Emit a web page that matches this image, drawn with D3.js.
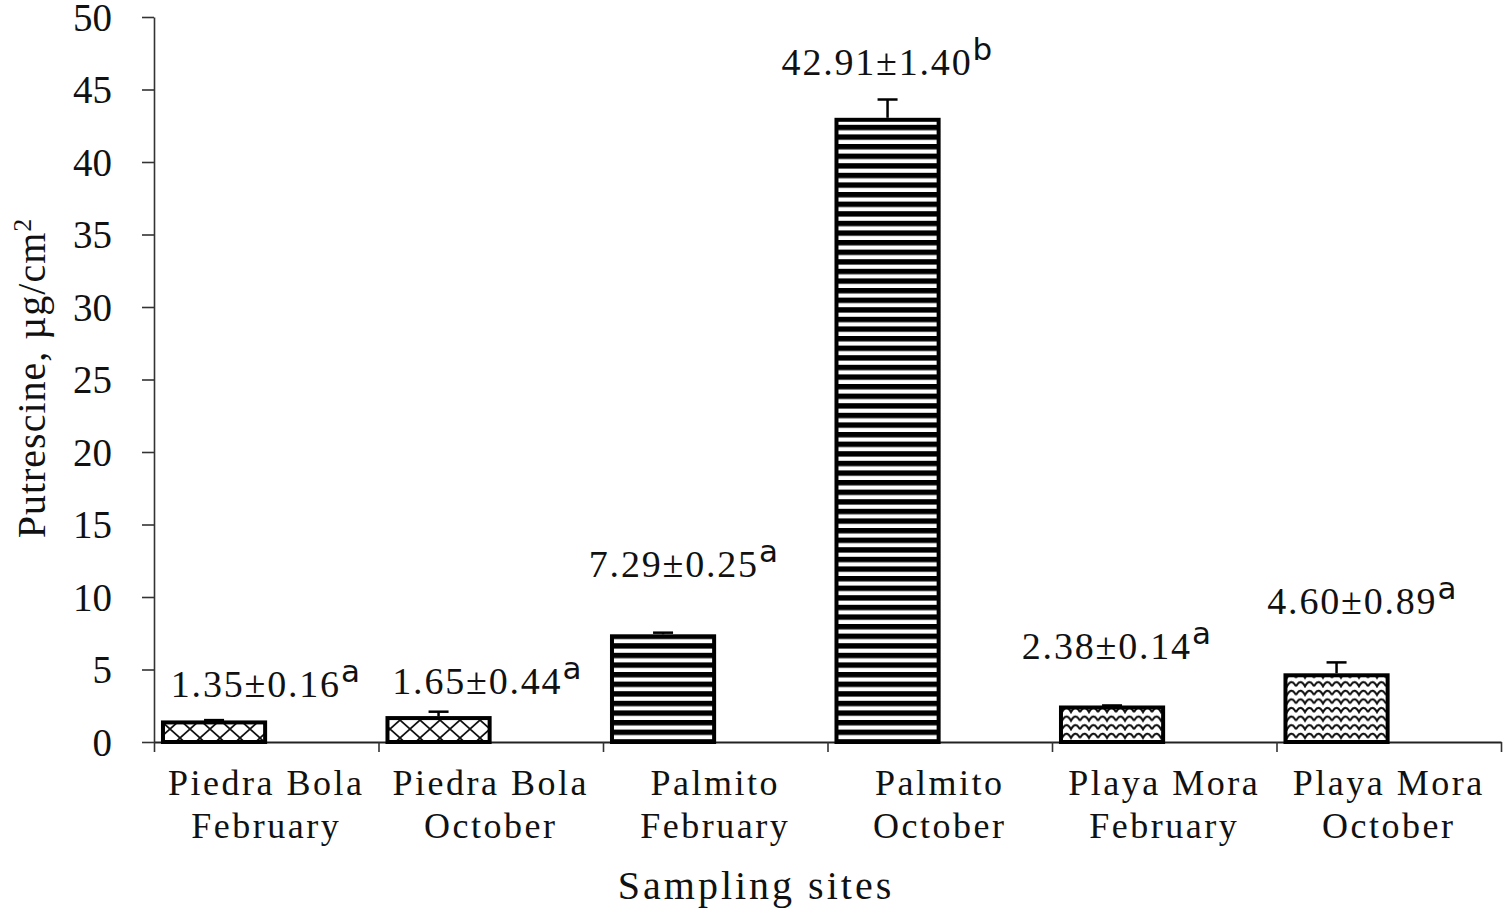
<!DOCTYPE html>
<html>
<head>
    <meta charset="utf-8" />
    <title>Putrescine</title>
    <script src="https://cdn.jsdelivr.net/npm/d3@7"></script>
    <style>
        body { margin: 0; background: #fff; }
        svg text { font-family: "Liberation Serif", "Times New Roman", serif; fill: #111; }
    </style>
</head>
<body>
    <svg id="chart" width="1503" height="915"></svg>

    <script>
        // data
        var sites = ['Piedra Bola', 'Piedra Bola', 'Palmito', 'Palmito', 'Playa Mora', 'Playa Mora']
        var months = ['February', 'October', 'February', 'October', 'February', 'October']
        var means = [1.35, 1.65, 7.29, 42.91, 2.38, 4.60]
        var errors = [0.16, 0.44, 0.25, 1.40, 0.14, 0.89]
        var letters = ['a', 'a', 'a', 'b', 'a', 'a']
        var yTicks = [0, 5, 10, 15, 20, 25, 30, 35, 40, 45, 50]

        // hand placed label nudges (px), like the original
        var labelDx = [0, -3, -31, -52, -47, -26]
        var labelDy = [25, 24, 59, 45, 48, 61]
        var fills = ['lattice', 'lattice', 'stripes', 'stripes', 'waves', 'waves']

        var svg = d3.select('#chart')
        svg.append('rect').attr('width', 1503).attr('height', 915).attr('fill', '#fff')

        var plotL = 154, plotR = 1501, plotT = 17, plotB = 742
        var idx = d3.range(means.length)

        var x = d3.scaleBand().domain(idx).range([plotL, plotR]).padding(0)
        var xEdge = d3.scaleLinear().domain([0, means.length]).range([plotL, plotR])
        var y = d3.scaleLinear().domain([0, 50]).range([plotB, plotT])

        // patterns
        var defs = svg.append('defs')
        var p1 = defs.append('pattern').attr('id', 'lattice').attr('patternUnits', 'userSpaceOnUse')
            .attr('width', 20).attr('height', 18)
        p1.append('rect').attr('width', 20).attr('height', 18).attr('fill', '#fff')
        p1.append('path').attr('d', 'M0,0 L20,18 M20,0 L0,18')
            .attr('stroke', '#111').attr('stroke-width', 1.7).attr('fill', 'none')

        var p2 = defs.append('pattern').attr('id', 'stripes').attr('patternUnits', 'userSpaceOnUse')
            .attr('width', 10).attr('height', 9.6)
        p2.append('rect').attr('width', 10).attr('height', 9.6).attr('fill', '#fff')
        p2.append('rect').attr('width', 10).attr('height', 5.4).attr('fill', '#000')

        var p3 = defs.append('pattern').attr('id', 'waves').attr('patternUnits', 'userSpaceOnUse')
            .attr('width', 18).attr('height', 8.6)
        p3.append('rect').attr('width', 18).attr('height', 8.6).attr('fill', '#fff')
        p3.append('path').attr('d', 'M0,7 Q4.5,-1.5 9,7 Q13.5,-1.5 18,7')
            .attr('stroke', '#111').attr('stroke-width', 2).attr('fill', 'none')

        // y axis
        var yAxis = svg.append('g')
            .attr('transform', 'translate(' + plotL + ',0)')
            .call(d3.axisLeft(y).tickValues(yTicks).tickSize(12).tickSizeOuter(0).tickPadding(30))
        yAxis.select('.domain').attr('stroke', '#333').attr('stroke-width', 1.6)
        yAxis.selectAll('.tick line').attr('stroke', '#333').attr('stroke-width', 1.6)
        yAxis.selectAll('.tick text').attr('font-size', 39).attr('dy', '0.34em')
            .style('font-family', '"Liberation Serif", serif').attr('fill', '#111')

        // x axis with ticks between categories
        var xAxis = svg.append('g')
            .attr('transform', 'translate(0,' + plotB + ')')
            .call(d3.axisBottom(xEdge).tickValues(d3.range(means.length + 1)).tickFormat('').tickSize(10).tickSizeOuter(0))
        xAxis.select('.domain').attr('stroke', '#222').attr('stroke-width', 2)
        xAxis.selectAll('.tick line').attr('stroke', '#333').attr('stroke-width', 1.6)

        // bars
        var bw = x.bandwidth()
        svg.append('g').selectAll('rect')
            .data(idx)
            .enter()
            .append('rect')
            .attr('x', function (i) { return x(i) + bw * 0.04 })
            .attr('width', bw * 0.455)
            .attr('y', function (i) { return y(means[i]) })
            .attr('height', function (i) { return y(0) - y(means[i]) })
            .attr('fill', function (i) { return 'url(#' + fills[i] + ')' })
            .attr('stroke', '#000')
            .attr('stroke-width', 4)

        // error bars (upper only)
        var eb = svg.append('g').attr('stroke', '#000').attr('stroke-width', 2.5)
        idx.forEach(function (i) {
            var cx = x(i) + bw * 0.04 + bw * 0.455 / 2
            eb.append('line').attr('x1', cx).attr('x2', cx)
                .attr('y1', y(means[i]) - 2).attr('y2', y(means[i] + errors[i]))
            eb.append('line').attr('x1', cx - 10).attr('x2', cx + 10)
                .attr('y1', y(means[i] + errors[i])).attr('y2', y(means[i] + errors[i]))
        })

        // value labels
        var labels = svg.append('g').selectAll('text')
            .data(idx)
            .enter()
            .append('text')
            .attr('x', function (i) { return x(i) + bw / 2 + labelDx[i] })
            .attr('y', function (i) { return y(means[i]) - labelDy[i] })
            .attr('text-anchor', 'middle')
            .attr('font-size', 38)
            .attr('letter-spacing', 1.8)
        labels.append('tspan').text(function (i) { return means[i].toFixed(2) + '±' + errors[i].toFixed(2) })
        labels.append('tspan').attr('dy', -15).attr('font-size', 31)
            .style('font-family', '"DejaVu Sans", sans-serif')
            .text(function (i) { return letters[i] })

        // category labels
        var cats = svg.append('g').selectAll('text')
            .data(idx)
            .enter()
            .append('text')
            .attr('text-anchor', 'middle')
            .attr('font-size', 36)
            .attr('letter-spacing', 2.5)
        cats.append('tspan').attr('x', function (i) { return x(i) + bw / 2 }).attr('y', 795)
            .text(function (i) { return sites[i] })
        cats.append('tspan').attr('x', function (i) { return x(i) + bw / 2 }).attr('y', 838)
            .text(function (i) { return months[i] })

        // axis titles
        svg.append('text')
            .attr('x', 756).attr('y', 899)
            .attr('text-anchor', 'middle')
            .attr('font-size', 40)
            .attr('letter-spacing', 3)
            .text('Sampling  sites')

        var yt = svg.append('text')
            .attr('transform', 'translate(45,378) rotate(-90)')
            .attr('text-anchor', 'middle')
            .attr('font-size', 40)
            .attr('letter-spacing', 1)
        yt.append('tspan').text('Putrescine, µg/cm')
        yt.append('tspan').attr('dy', -14).attr('font-size', 26).text('2')
    </script>
</body>
</html>
